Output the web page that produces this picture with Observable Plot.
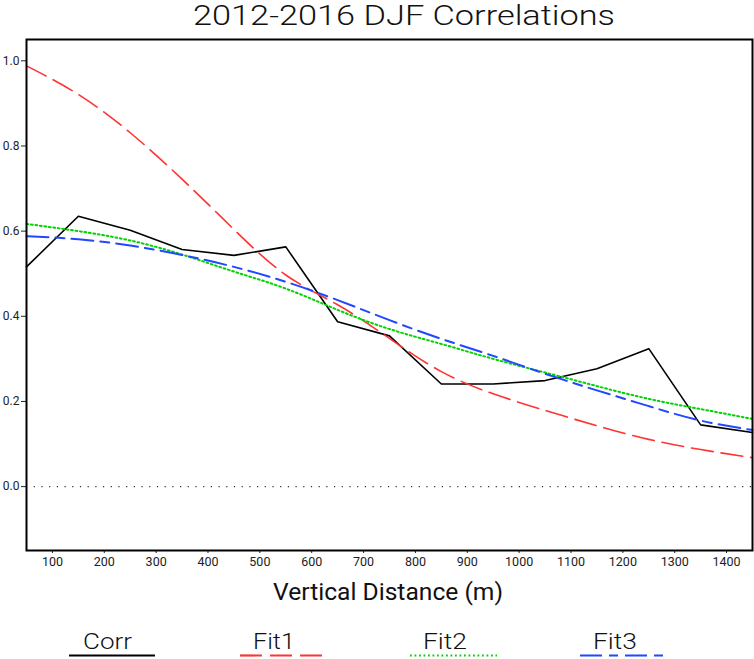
<!DOCTYPE html>
<html>
<head>
<meta charset="utf-8">
<script src="https://cdn.jsdelivr.net/npm/d3@7"></script>
<script src="https://cdn.jsdelivr.net/npm/@observablehq/plot@0.6"></script>
<style>
  html, body { margin: 0; padding: 0; background: #fff; }
  #wrap { position: relative; width: 754px; height: 659px; overflow: hidden; }
  #wrap > svg { position: absolute; left: 0; top: 0; }
  #overlay { pointer-events: none; }
</style>
</head>
<body>
<div id="wrap"></div>
<script>
const distance = [50,150,250,350,450,550,650,750,850,950,1050,1150,1250,1350,1450];
const corr = [0.516,0.635,0.602,0.557,0.543,0.563,0.387,0.354,0.241,0.241,0.249,0.277,0.324,0.145,0.127];
const fit1 = [0.988,0.921,0.831,0.722,0.604,0.497,0.427,0.348,0.270,0.218,0.179,0.143,0.111,0.087,0.068];
const fit2 = [0.617,0.600,0.578,0.545,0.505,0.465,0.415,0.370,0.335,0.300,0.268,0.236,0.206,0.182,0.159];
const fit3 = [0.588,0.581,0.566,0.544,0.516,0.481,0.438,0.391,0.347,0.307,0.265,0.226,0.189,0.155,0.133];
const xTicks = [100,200,300,400,500,600,700,800,900,1000,1100,1200,1300,1400];
const yTicks = [0,0.2,0.4,0.6,0.8,1.0];
const seriesNames = ["Corr","Fit1","Fit2","Fit3"];
const titleText = "2012-2016 DJF Correlations";
const xLabel = "Vertical Distance (m)";

const styles = {
  Corr: {stroke: "#000000", strokeWidth: 1.6, dash: null, curve: "linear"},
  Fit1: {stroke: "#ff3333", strokeWidth: 1.6, dash: "22,8", curve: "natural"},
  Fit2: {stroke: "#00d400", strokeWidth: 2, dash: "1.8,2.7", curve: "natural"},
  Fit3: {stroke: "#1f48ff", strokeWidth: 2, dash: "22,7,9,7", curve: "natural"}
};
const values = {Corr: corr, Fit1: fit1, Fit2: fit2, Fit3: fit3};
const rows = name => distance.map((d, i) => ({d, r: values[name][i]}));

const lineMarks = seriesNames.map(name => Plot.line(rows(name), {
  x: "d", y: "r",
  stroke: styles[name].stroke,
  strokeWidth: styles[name].strokeWidth,
  strokeDasharray: styles[name].dash,
  curve: styles[name].curve
}));

const chart = Plot.plot({
  width: 754,
  height: 659,
  marginTop: 39,
  marginLeft: 26,
  marginRight: 2,
  marginBottom: 109,
  style: {fontFamily: "Roboto, 'DejaVu Sans', sans-serif", fontSize: "12px", color: "#222", background: "white"},
  x: {domain: [50, 1450], label: null},
  y: {domain: [-0.15, 1.05], label: null},
  marks: [
    Plot.ruleY([0], {stroke: "#333", strokeDasharray: "1.2,6.5", strokeWidth: 1.2}),
    ...lineMarks,
    Plot.axisY({ticks: yTicks, tickFormat: d3.format(".1f"), tickSize: 5, tickPadding: 2, fontSize: 12, label: null}),
    Plot.axisX({ticks: xTicks, tickFormat: d => String(d), tickSize: 3, tickPadding: 4, fontSize: 12.5, label: null}),
    Plot.frame({stroke: "#000", strokeWidth: 2})
  ]
});
document.getElementById("wrap").appendChild(chart);

// Title, axis label and legend as an overlay
const ns = "http://www.w3.org/2000/svg";
const ov = document.createElementNS(ns, "svg");
ov.setAttribute("id", "overlay");
ov.setAttribute("width", 754);
ov.setAttribute("height", 659);
function txt(s, x, y, size, weight, len) {
  const t = document.createElementNS(ns, "text");
  t.setAttribute("x", x); t.setAttribute("y", y);
  t.setAttribute("font-family", "Roboto, 'DejaVu Sans', sans-serif");
  t.setAttribute("font-size", size);
  t.setAttribute("font-weight", weight);
  t.setAttribute("fill", "#111");
  if (len) { t.setAttribute("textLength", len); t.setAttribute("lengthAdjust", "spacingAndGlyphs"); }
  t.textContent = s;
  ov.appendChild(t);
}
txt(titleText, 193, 25, 28, 300, 422);
txt(xLabel, 273, 600, 24, 400, 230);

const legendPos = {
  Corr: {tx: 83, tw: 49, l0: 69, l1: 155},
  Fit1: {tx: 253, tw: 42, l0: 240, l1: 322},
  Fit2: {tx: 423, tw: 44, l0: 410, l1: 497},
  Fit3: {tx: 593, tw: 44, l0: 580, l1: 667}
};
seriesNames.forEach(name => {
  const p = legendPos[name], s = styles[name];
  txt(name, p.tx, 649, 22, 300, p.tw);
  const l = document.createElementNS(ns, "line");
  l.setAttribute("x1", p.l0); l.setAttribute("x2", p.l1);
  l.setAttribute("y1", 655.5); l.setAttribute("y2", 655.5);
  l.setAttribute("stroke", s.stroke);
  l.setAttribute("stroke-width", name === "Corr" ? 2 : 2.2);
  if (s.dash) l.setAttribute("stroke-dasharray", s.dash);
  ov.appendChild(l);
});
document.getElementById("wrap").appendChild(ov);
</script>
</body>
</html>
